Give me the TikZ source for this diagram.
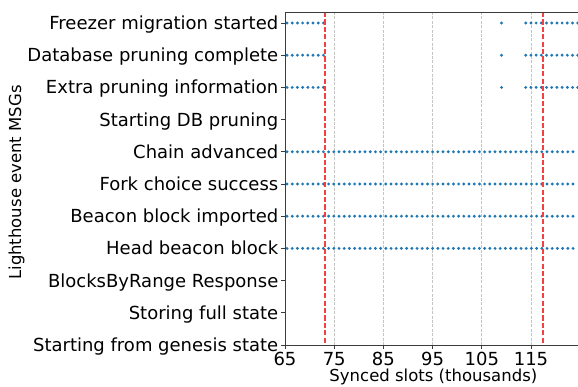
\documentclass[tikz,border=0pt]{standalone}
\usepackage{fontspec}
\setmainfont{DejaVu Sans}
\definecolor{evtblue}{HTML}{1F77B4}
\definecolor{markred}{RGB}{240,66,66}
\definecolor{gridgray}{RGB}{196,196,196}
\definecolor{spine}{RGB}{60,60,60}
\begin{document}
\begin{tikzpicture}[x=1pt,y=-1pt,
  ticklab/.style={font=\fontsize{18}{20}\selectfont, inner sep=0pt, text=black},
  axlab/.style={font=\fontsize{16.5}{19}\selectfont, inner sep=0pt, text=black},
  gridline/.style={draw=gridgray, line width=0.8pt, dash pattern=on 3pt off 1.4pt},
  vmark/.style={draw=markred, line width=1.4pt, dash pattern=on 5.2pt off 2.2pt},
  spineline/.style={draw=spine, line width=0.9pt},
  tickmark/.style={draw=spine, line width=0.8pt},
  evt/.style={fill=evtblue}]
\useasboundingbox (0,0) rectangle (578,387);
\fill[white] (0,0) rectangle (578,387);

% x in thousands of slots -> horizontal position
\def\xpos#1{{285+((#1)-65)*4.92}}
% row index (0 = bottom) -> vertical position
\def\ypos#1{{345-32.2*(#1)}}

% vertical grid lines
\foreach \v in {75,85,95,105,115}
  \draw[gridline] (\xpos{\v},12) -- (\xpos{\v},345);

% rows logged over the whole range
\foreach \r in {3,4,5,6}
  \foreach \i in {0,...,55}
    \fill[evt] ({287+5.2*\i},\ypos{\r}) circle (1.6);

% pruning / freezer rows: only near the two markers
\foreach \r in {8,9,10}{
  \foreach \i in {0,...,7}
    \fill[evt] ({287+5.2*\i},\ypos{\r}) circle (1.6);
  \fill[evt] (501.5,\ypos{\r}) circle (1.6);
  \foreach \i in {0,...,10}
    \fill[evt] ({525.7+5.2*\i},\ypos{\r}) circle (1.6);
}

% markers
\draw[vmark] (\xpos{73.1},12) -- (\xpos{73.1},345);
\draw[vmark] (\xpos{117.4},12) -- (\xpos{117.4},345);

% spines (the right side runs past the edge)
\draw[spineline] (578,12) -- (285,12) -- (285,345) -- (578,345);

% y ticks and labels
\foreach \r/\t in {10/Freezer migration started,
                   9/Database pruning complete,
                   8/Extra pruning information,
                   7/Starting DB pruning,
                   6/Chain advanced,
                   5/Fork choice success,
                   4/Beacon block imported,
                   3/Head beacon block,
                   2/BlocksByRange Response,
                   1/Storing full state,
                   0/Starting from genesis state}{
  \draw[tickmark] (281,\ypos{\r}) -- (285,\ypos{\r});
  \node[ticklab, anchor=base east] (ylab\r) at (278.5,{345-32.2*\r+6.6}) {\t};
}

% x ticks and labels
\foreach \v in {65,75,85,95,105,115}{
  \draw[tickmark] (\xpos{\v},345) -- (\xpos{\v},349);
  \node[ticklab, anchor=base] (xlab\v) at (\xpos{\v},365) {\v};
}

% axis titles
\node[axlab, anchor=base] (xtitle) at (433.4,381.5) {Synced slots (thousands)};
\node[axlab, rotate=90] (ytitle) at (16.5,182.5) {Lighthouse event MSGs};
\end{tikzpicture}
\end{document}
